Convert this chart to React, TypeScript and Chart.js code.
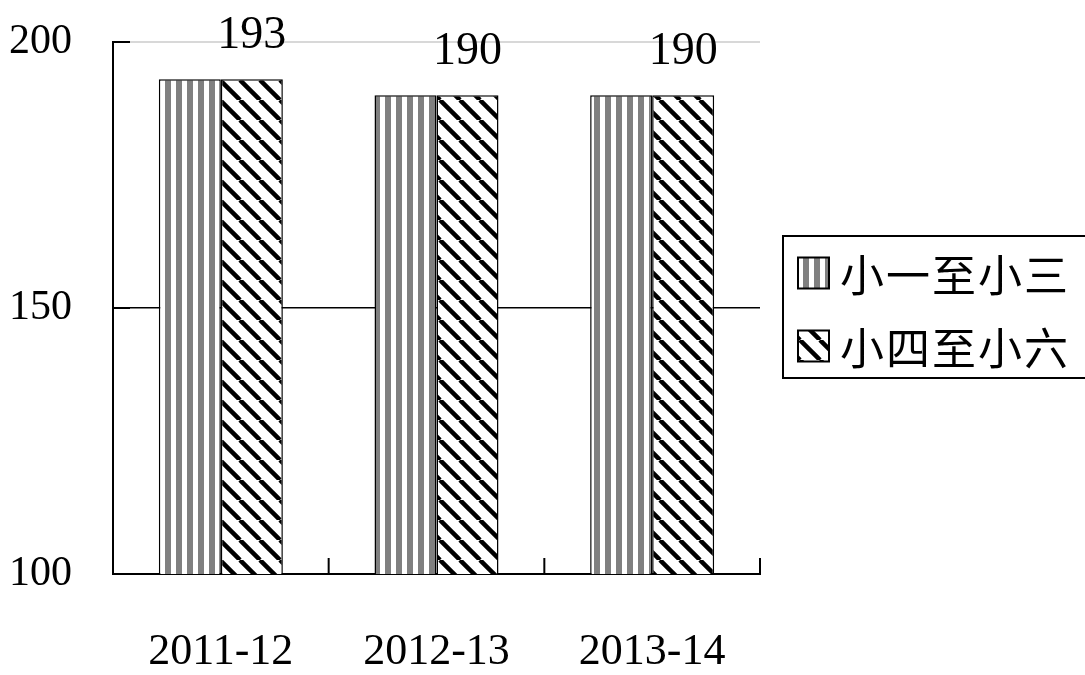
import React, { useEffect, useRef } from 'react';
import { Chart, registerables } from 'chart.js';

Chart.register(...registerables);

const categories = ['2011-12', '2012-13', '2013-14'];
const seriesNames = ['小一至小三', '小四至小六'];
const juniorValues = [193, 190, 190];
const seniorValues = [193, 190, 190];
const yTickValues = [100, 150, 200];

function stripePattern(): CanvasPattern | string {
  const c = document.createElement('canvas');
  c.width = 11;
  c.height = 11;
  const g = c.getContext('2d');
  if (!g) return '#808080';
  g.fillStyle = '#ffffff';
  g.fillRect(0, 0, 11, 11);
  g.fillStyle = '#808080';
  g.fillRect(0, 0, 6, 11);
  return g.createPattern(c, 'repeat') || '#808080';
}

function diagonalPattern(): CanvasPattern | string {
  const P = 20;
  const c = document.createElement('canvas');
  c.width = P;
  c.height = P;
  const g = c.getContext('2d');
  if (!g) return '#000';
  g.fillStyle = '#ffffff';
  g.fillRect(0, 0, P, P);
  g.strokeStyle = '#000000';
  g.lineWidth = 4.5;
  for (const o of [-P, 0, P]) {
    g.beginPath();
    g.moveTo(o, 0);
    g.lineTo(o + P, P);
    g.stroke();
  }
  return g.createPattern(c, 'repeat') || '#000';
}

const decorPlugin = {
  id: 'decor',
  afterDatasetsDraw(chart: any) {
    const { ctx, chartArea, scales } = chart;
    const x = scales.x;
    const y = scales.y;
    ctx.save();
    ctx.strokeStyle = '#000';
    ctx.lineWidth = 2;
    // inward y ticks
    for (const v of yTickValues) {
      const py = y.getPixelForValue(v);
      ctx.beginPath();
      ctx.moveTo(chartArea.left, py);
      ctx.lineTo(chartArea.left + 17, py);
      ctx.stroke();
    }
    // inward x ticks at category boundaries
    for (let i = 0; i <= categories.length; i++) {
      const px = x.getPixelForValue(i - 0.5);
      ctx.beginPath();
      ctx.moveTo(px, chartArea.bottom);
      ctx.lineTo(px, chartArea.bottom - 16);
      ctx.stroke();
    }
    // value labels over second series
    const meta = chart.getDatasetMeta(1);
    ctx.font = '46px "Liberation Serif"';
    ctx.textAlign = 'center';
    ctx.textBaseline = 'alphabetic';
    ctx.fillStyle = '#000';
    meta.data.forEach((bar: any, i: number) => {
      ctx.fillText(String(seniorValues[i]), bar.x, bar.y - 31);
    });

    // legend box
    const lx = 783;
    const ly = 236;
    ctx.lineWidth = 2;
    ctx.strokeRect(lx, ly, 330, 142);
    const rowsY = [273, 346];
    ctx.font = '44px "Noto Sans CJK TC"';
    ctx.textAlign = 'left';
    ctx.textBaseline = 'middle';
    chart.data.datasets.forEach((ds: any, i: number) => {
      const cy = rowsY[i];
      const s = 31;
      ctx.fillStyle = ds.backgroundColor;
      ctx.fillRect(798, cy - s / 2, s, s);
      ctx.lineWidth = 2;
      ctx.strokeStyle = '#000';
      ctx.strokeRect(798, cy - s / 2, s, s);
      ctx.fillStyle = '#000';
      if ('letterSpacing' in ctx) (ctx as any).letterSpacing = '2px';
      ctx.fillText(ds.label, 840, cy + 2);
    });
    ctx.restore();
  },
};

export default function App() {
  const ref = useRef<HTMLCanvasElement>(null);
  useEffect(() => {
    if (!ref.current) return;
    const chart = new Chart(ref.current, {
      type: 'bar',
      data: {
        labels: categories,
        datasets: [
          {
            label: seriesNames[0],
            data: juniorValues,
            backgroundColor: stripePattern() as any,
            borderColor: '#000',
            borderWidth: 1.5,
            categoryPercentage: 0.575,
            barPercentage: 1,
          },
          {
            label: seriesNames[1],
            data: seniorValues,
            backgroundColor: diagonalPattern() as any,
            borderColor: '#000',
            borderWidth: 1.5,
            categoryPercentage: 0.575,
            barPercentage: 1,
          },
        ],
      },
      options: {
        responsive: false,
        animation: false,
        layout: { padding: { top: 42, right: 325, left: 0, bottom: 0 } },
        plugins: {
          legend: { display: false },
          tooltip: { enabled: false },
        },
        scales: {
          x: {
            grid: { display: true, color: 'transparent', drawOnChartArea: false, drawTicks: false },
            border: { display: true, color: '#000', width: 2 },
            ticks: {
              color: '#000',
              font: { family: '"Liberation Serif"', size: 44 },
              padding: 52,
              maxRotation: 0,
            },
            afterFit: (s: any) => {
              s.height = 101;
              s.paddingLeft = 0;
              s.paddingRight = 0;
            },
          },
          y: {
            min: 100,
            max: 200,
            grid: {
              drawTicks: false,
              color: (c: any) =>
                c.tick && c.tick.value === 150 ? '#000' : c.tick && c.tick.value === 200 ? '#d8d8d8' : 'transparent',
              lineWidth: (c: any) => (c.tick && c.tick.value === 200 ? 2 : 1.5),
            },
            border: { display: true, color: '#000', width: 2 },
            ticks: {
              stepSize: 50,
              color: '#000',
              font: { family: '"Liberation Serif"', size: 42 },
              padding: 41,
            },
            afterFit: (s: any) => {
              s.width = 113;
              s.paddingTop = 0;
              s.paddingBottom = 0;
            },
          },
        },
      },
      plugins: [decorPlugin],
    });
    return () => chart.destroy();
  }, []);
  return (
    <div style={{ position: 'absolute', left: 0, top: 0, width: 1085, height: 675, background: '#fff' }}>
      <canvas ref={ref} width={1085} height={675} style={{ width: 1085, height: 675 }} />
    </div>
  );
}
